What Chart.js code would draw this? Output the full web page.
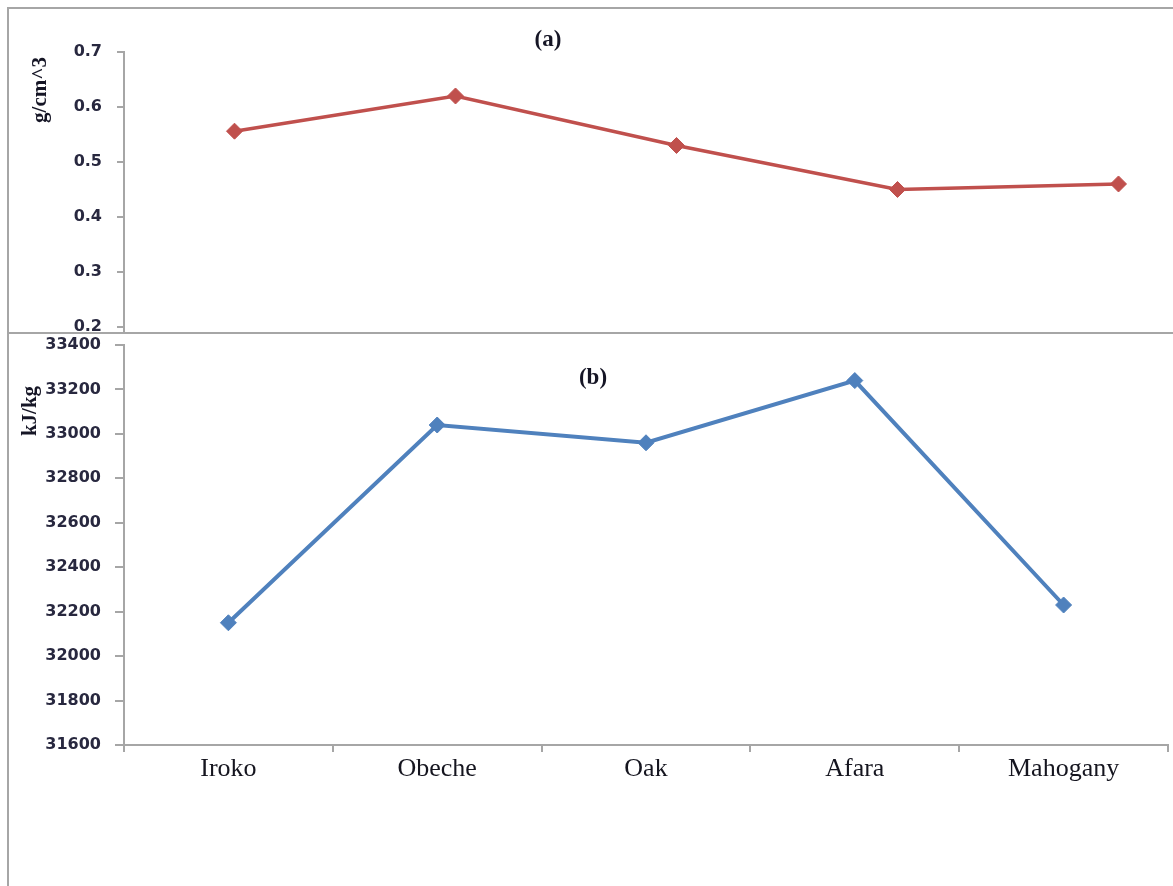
<!DOCTYPE html>
<html>
<head>
<meta charset="utf-8">
<script src="https://cdn.jsdelivr.net/npm/chart.js@4/dist/chart.umd.min.js"></script>
<style>
  html, body { margin: 0; padding: 0; background: #fff; overflow: hidden; width: 1173px; height: 886px; }
  #page { position: relative; width: 1173px; height: 886px; overflow: hidden; background: #fff; }
  #frameA { position: absolute; left: 7px; top: 7px; width: 1220px; height: 327px; box-sizing: border-box;
            border: 2px solid #a6a6a6; border-right: none; }
  #frameB { position: absolute; left: 7px; top: 333px; width: 2px; height: 553px; background: #a6a6a6; }
  #chartA { position: absolute; left: 0; top: 0; }
  #chartB { position: absolute; left: 0; top: 333px; }
</style>
</head>
<body>
<div id="page">
  <div id="frameA"></div>
  <div id="frameB"></div>
  <canvas id="chartA" width="1240" height="333"></canvas>
  <canvas id="chartB" width="1173" height="553"></canvas>
</div>
<script>
// Wood species and their measured properties
const species = ['Iroko', 'Obeche', 'Oak', 'Afara', 'Mahogany'];
const density = [0.556, 0.62, 0.53, 0.45, 0.46];          // g/cm^3
const calorific = [32150, 33040, 32960, 33240, 32230];     // kJ/kg

// Axis tick values
const densityTicks = [0.2, 0.3, 0.4, 0.5, 0.6, 0.7];
const calorificTicks = [31600, 31800, 32000, 32200, 32400, 32600, 32800, 33000, 33200, 33400];

const AXIS_GREY = '#a6a6a6';
const TICK_TEXT = '#28283f';

// Draws panel captions and rotated unit labels onto the canvas
const panelText = {
  id: 'panelText',
  afterDraw(chart, args, opts) {
    const ctx = chart.ctx;
    (opts.items || []).forEach(it => {
      ctx.save();
      ctx.translate(it.x, it.y);
      if (it.rotate) ctx.rotate(it.rotate);
      ctx.font = it.font;
      ctx.fillStyle = it.color || '#111';
      ctx.textAlign = 'center';
      ctx.textBaseline = 'middle';
      ctx.fillText(it.text, 0, 0);
      ctx.restore();
    });
  }
};

function valueAxis(min, max, ticks, tickLen, pad, width, fmt) {
  return {
    min: min,
    max: max,
    afterBuildTicks: s => { s.ticks = ticks.map(v => ({ value: v })); },
    afterFit: s => { s.width = width; s.paddingTop = 0; s.paddingBottom = 0; },
    border: { color: AXIS_GREY, width: 2 },
    grid: { drawOnChartArea: false, tickLength: tickLen, color: AXIS_GREY, lineWidth: 2 },
    ticks: {
      padding: pad,
      color: TICK_TEXT,
      font: { family: 'DejaVu Sans', size: 16, weight: 'bold' },
      callback: fmt
    }
  };
}

// (a) density
new Chart(document.getElementById('chartA'), {
  type: 'line',
  data: {
    labels: species,
    datasets: [{
      data: density,
      borderColor: '#c0504d',
      backgroundColor: '#c0504d',
      borderWidth: 3.5,
      pointStyle: 'rectRot',
      pointRadius: 8,
      pointBorderWidth: 1,
      tension: 0
    }]
  },
  options: {
    responsive: false,
    animation: false,
    devicePixelRatio: 1,
    layout: { autoPadding: false, padding: { top: 52, right: 11, bottom: 0, left: 0 } },
    scales: {
      x: { display: false, offset: true },
      y: valueAxis(0.189, 0.7, densityTicks, 7, 15, 124, v => Number(v).toFixed(1))
    },
    plugins: {
      legend: { display: false },
      tooltip: { enabled: false },
      panelText: {
        items: [
          { text: '(a)', x: 548, y: 40, font: 'bold 23px "Liberation Serif"', color: '#151525' },
          { text: 'g/cm^3', x: 41, y: 90, rotate: -Math.PI / 2, font: 'bold 21px "Liberation Serif"', color: '#151525' }
        ]
      }
    }
  },
  plugins: [panelText]
});

// (b) calorific value
new Chart(document.getElementById('chartB'), {
  type: 'line',
  data: {
    labels: species,
    datasets: [{
      data: calorific,
      borderColor: '#4f81bd',
      backgroundColor: '#4f81bd',
      borderWidth: 4,
      pointStyle: 'rectRot',
      pointRadius: 8,
      pointBorderWidth: 1,
      tension: 0
    }]
  },
  options: {
    responsive: false,
    animation: false,
    devicePixelRatio: 1,
    layout: { autoPadding: false, padding: { top: 12, right: 5, bottom: 0, left: 0 } },
    scales: {
      x: {
        offset: true,
        afterFit: s => { s.height = 141; s.paddingLeft = 0; s.paddingRight = 0; },
        border: { color: AXIS_GREY, width: 2 },
        grid: { offset: true, drawOnChartArea: false, tickLength: 7, color: AXIS_GREY, lineWidth: 2 },
        ticks: {
          padding: 2,
          color: '#15151f',
          font: { family: 'Liberation Serif', size: 26 },
          maxRotation: 0,
          autoSkip: false
        }
      },
      y: valueAxis(31600, 33400, calorificTicks, 9, 14, 124, v => String(v))
    },
    plugins: {
      legend: { display: false },
      tooltip: { enabled: false },
      panelText: {
        items: [
          { text: '(b)', x: 593, y: 45, font: 'bold 23px "Liberation Serif"', color: '#151525' },
          { text: 'kJ/kg', x: 31, y: 78, rotate: -Math.PI / 2, font: 'bold 21px "Liberation Serif"', color: '#151525' }
        ]
      }
    }
  },
  plugins: [panelText]
});
</script>
</body>
</html>
